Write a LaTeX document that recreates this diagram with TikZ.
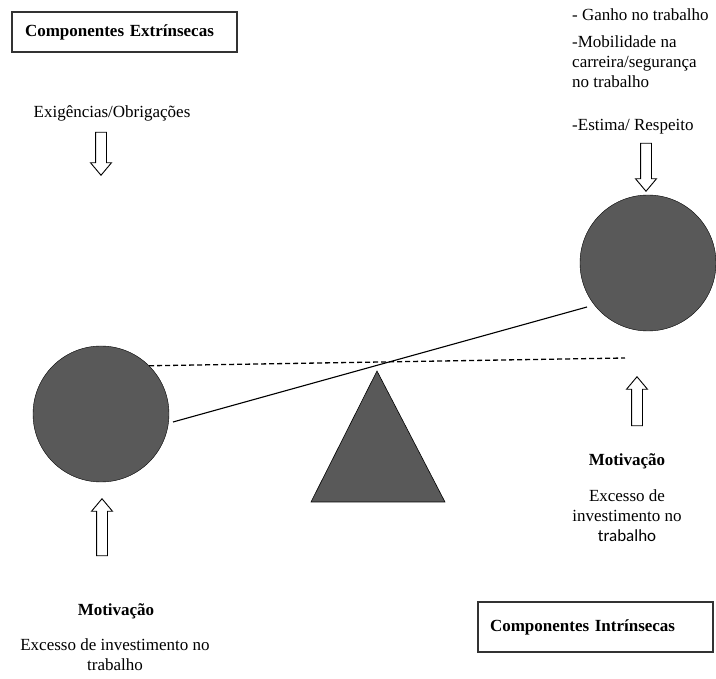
\documentclass[tikz,border=0pt]{standalone}
\usepackage{fontspec}
\setmainfont{Liberation Serif}
\newfontfamily\calibrifont{Carlito}
\usetikzlibrary{shapes.arrows}
\definecolor{ballgray}{RGB}{89,89,89}

\begin{document}
\begin{tikzpicture}[
    x=1pt, y=-1pt,
    every node/.style={font=\fontsize{17}{20}\selectfont, inner sep=0pt},
    label box/.style={draw=black!80, line width=1.2pt, align=left, inner xsep=13pt, minimum height=40pt},
    ball/.style={circle, draw, fill=ballgray, minimum size=136pt},
    hollow/.style={single arrow, draw, line width=0.9pt, fill=white, inner sep=5pt, single arrow head extend=5pt, single arrow tip angle=80, minimum height=#1},
    lever/.style={line width=1.1pt},
    level/.style={line width=1.3pt, dash pattern=on 5pt off 3pt}
]
\useasboundingbox (0,0) rectangle (716,679);

% boxes
\node[label box, text width=199pt] (extr) at (124.5,32) {\textbf{Componentes Extrínsecas}};
\node[label box, text width=211pt, inner xsep=12pt, minimum height=50pt] (intr) at (595.5,627) {\textbf{Componentes Intrínsecas}\\[4pt]};

% balance
\node[ball] (ballL) at (101,414) {};
\node[ball] (ballR) at (648,263) {};
\coordinate (apex) at (377,371);
\fill[ballgray, draw=black, line width=0.6pt] (apex) -- (445,502) -- (311,502) -- cycle;
\coordinate (leverL) at (173,422);
\coordinate (leverR) at (587,307);
\coordinate (dashR) at (625,358);
\draw[lever] (leverL) -- (leverR);
\draw[level] (ballL.45) -- (dashR);

% left side
\node[anchor=base] (exig) at (112,118) {Exigências/Obrigações};
\node[hollow=43pt, shape border rotate=270] (downL) at (101,150.5) {};
\node[hollow=57pt, shape border rotate=90] (upL) at (102,530.5) {};
\node[anchor=base] (motL) at (116,615) {\textbf{Motivação}};
\node[anchor=north, align=center] (excL) at (115,638.5) {Excesso de investimento no\\trabalho};

% right side
\node[anchor=north west, align=left] (ganho) at (572,8.3) {- Ganho no trabalho};
\node[anchor=north west, align=left] (mobil) at (572,35.8) {-Mobilidade na\\carreira/segurança\\no trabalho};
\node[anchor=base west] (estima) at (572,131) {-Estima/ Respeito};
\node[hollow=48pt, shape border rotate=270] (downR) at (646,164) {};
\node[hollow=49pt, shape border rotate=90] (upR) at (637,404.5) {};
\node[anchor=base] (motR) at (627,465) {\textbf{Motivação}};
\node[anchor=north, align=center] (excR) at (627,489.4) {Excesso de\\investimento no\\{\calibrifont trabalho}};
\end{tikzpicture}
\end{document}
